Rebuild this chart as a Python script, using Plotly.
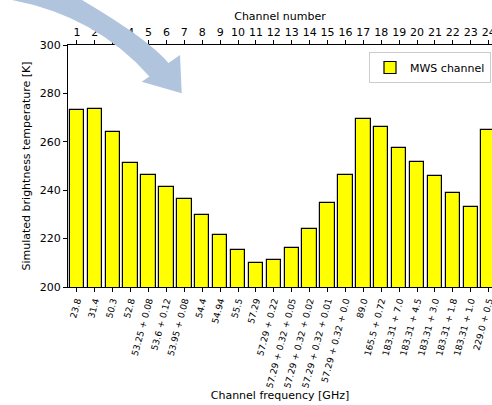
import plotly.graph_objects as go

# ---- data ----
channels = list(range(1, 25))
freq_labels = ["23.8", "31.4", "50.3", "52.8", "53.25 + 0.08", "53.6 + 0.12",
               "53.95 + 0.08", "54.4", "54.94", "55.5", "57.29", "57.29 + 0.22",
               "57.29 + 0.32 + 0.05", "57.29 + 0.32 + 0.02", "57.29 + 0.32 + 0.01",
               "57.29 + 0.32 + 0.0", "89.0", "165.5 + 0.72", "183.31 + 7.0",
               "183.31 + 4.5", "183.31 + 3.0", "183.31 + 1.8", "183.31 + 1.0",
               "229.0 + 0.5"]
tb_values = [273.1, 273.6, 263.9, 251.1, 246.4, 241.5, 236.2, 229.6, 221.4, 215.3,
             209.9, 211.3, 216.0, 223.8, 234.6, 246.4, 269.6, 266.1, 257.6, 251.5,
             245.7, 238.8, 233.2, 264.8]

# ---- layout geometry (pixels) ----
W, H = 492, 405
L, R, T, B = 68, 0, 45, 118
PW, PH = W - L - R, H - T - B
FONT = "DejaVu Sans"


def px(x, y):
    return (x - L) / PW, 1 - (y - T) / PH


def pt(x, y):
    a, b = px(x, y)
    return f"{a:.4f},{b:.4f}"


fig = go.Figure()
fig.add_trace(go.Bar(
    x=channels, y=tb_values, width=0.8, name="MWS channel",
    marker=dict(color="#ffff00", line=dict(color="black", width=1.2)),
    showlegend=True,
))
fig.add_trace(go.Scatter(
    x=channels, y=tb_values, xaxis="x2", mode="markers",
    marker=dict(opacity=0), showlegend=False, hoverinfo="skip",
))

# curved arrow (decoration)
arrow_path = (
    f"M {pt(-30, -8)} L {pt(12, 0)} Q {pt(96, 16)} {pt(149.4, 76.4)} "
    f"L {pt(141.7, 81.7)} L {pt(181.7, 93.3)} L {pt(180, 55)} L {pt(168.5, 63)} "
    f"Q {pt(149.3, 39.8)} {pt(82, 0)} L {pt(47, -20)} Z"
)
fig.add_shape(type="path", path=arrow_path, xref="paper", yref="paper",
              fillcolor="#b0c4de", line=dict(width=0), layer="above")

xr = [0.5, 0.5 + PW / 17.9]
fig.update_layout(
    width=W, height=H,
    margin=dict(l=L, r=R, t=T, b=B, pad=0),
    paper_bgcolor="white", plot_bgcolor="white",
    font=dict(family=FONT, size=11, color="black"),
    bargap=0,
    xaxis=dict(
        range=xr, tickvals=channels, ticktext=freq_labels, tickangle=-75,
        tickfont=dict(size=9), ticks="outside", ticklen=4, tickcolor="black",
        showline=True, linecolor="black", linewidth=1, showgrid=False,
        zeroline=False, automargin=False, ticklabeloverflow="allow",
        title=dict(text="Channel frequency [GHz]", font=dict(size=11), standoff=2),
    ),
    xaxis2=dict(
        range=xr, overlaying="x", side="top", tickvals=channels,
        ticktext=[str(c) for c in channels], ticks="outside", ticklen=4,
        tickcolor="black", showline=True, linecolor="black", linewidth=1,
        showgrid=False, zeroline=False, automargin=False, ticklabeloverflow="allow",
        tickfont=dict(size=11),
        title=dict(text="Channel number", font=dict(size=11), standoff=2),
    ),
    yaxis=dict(
        range=[200, 300], tickvals=[200, 220, 240, 260, 280, 300],
        ticks="outside", ticklen=4, tickcolor="black", showline=True,
        linecolor="black", linewidth=1, showgrid=False, zeroline=False,
        automargin=False, tickfont=dict(size=11),
        title=dict(text="Simulated brightness temperature [K]", font=dict(size=11), standoff=6),
    ),
    legend=dict(
        x=px(491, 0)[0], y=px(0, 52)[1], xanchor="right", yanchor="top",
        bordercolor="#cccccc", borderwidth=1, bgcolor="rgba(255,255,255,0.8)",
        font=dict(size=11),
    ),
)

fig.write_html(
    "out.html",
    config={"displayModeBar": False},
    post_script="document.body.style.margin='0';document.body.style.overflow='hidden';",
)
